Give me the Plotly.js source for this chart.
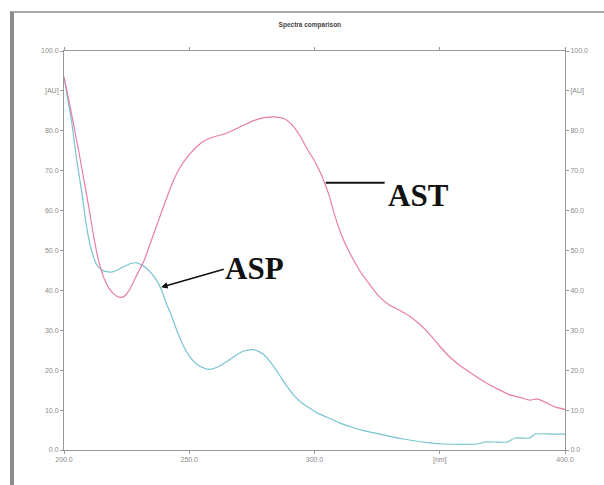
<!DOCTYPE html>
<html>
<head>
<meta charset="utf-8">
<script src="https://cdn.plot.ly/plotly-3.0.1.min.js"></script>
<style>
  html, body { margin: 0; padding: 0; background: #fff; }
  #wrap { position: relative; width: 604px; height: 485px; overflow: hidden; }
  #chart { width: 604px; height: 485px; }
  #frame { position: absolute; left: 10px; top: 11px; width: 700px; height: 600px;
           border-left: 4px solid #8c8c8c; border-top: 2px solid #a8a8a8; pointer-events: none; }
</style>
</head>
<body>
<div id="wrap">
  <div id="chart"></div>
  <div id="frame"></div>
</div>
<script>
// AST spectrum (pink)
const astX = [200,202,204,206,208,210,212,214,216,218,220,222,224,226,228,230,232,234,236,238,240,243,246,250,253,256,260,264,268,272,276,280,284,288,291,294,297,300,302,304,306,308,311,314,318,322,326,330,334,338,342,346,350,354,358,362,366,370,374,378,382,386,389,392,396,400];
const astY = [93.5,87.5,81,74.5,67.5,60.5,53,47,43,40.5,39,38.3,38.5,40,42.5,45,47.5,51,54.5,58,61.5,66.5,70.5,74,76,77.5,78.5,79.2,80.3,81.5,82.6,83.3,83.5,83,81.5,79,75.5,72.5,70,67,63.5,59,53.5,49.5,45,41.5,38.3,36.3,35,33.5,31.5,29,26,23.3,21.2,19.5,17.8,16.3,15,13.8,13.2,12.5,12.8,12,10.8,10.2];

// ASP spectrum (cyan)
const aspX = [200,202,203,205,207,209,211,213,215,217,219,221,224,227,229,231,233,235,237,239,241,243,245,247,249,251,253,256,258,260,262,264,267,270,273,276,278,280,283,286,289,292,295,298,301,305,310,315,320,326,331,336,341,346,352,358,365,368,372,377,380,386,388,394,400];
const aspY = [93.5,86,82.5,73,65,56,50,46.5,45.2,44.7,44.6,45,46,46.8,46.9,46.4,45.5,44.2,42.5,40,36.5,33.5,30,27,24.5,22.8,21.5,20.5,20.2,20.5,21,21.8,23,24.3,25,25.1,24.6,23.8,21.5,18.8,16,13.5,11.8,10.5,9.3,8.2,6.8,5.7,4.8,4,3.3,2.7,2.2,1.8,1.5,1.4,1.5,2,2,2,3,3,4,4,4];

// Tick labels
const xTickVals = [200,250,300,350,400];
const xTickText = ['200.0','250.0','300.0','[nm]','400.0'];
const yTickVals = [0,10,20,30,40,50,60,70,80,90,100];
const yTickText = ['0.0','10.0','20.0','30.0','40.0','50.0','60.0','70.0','80.0','[AU]','100.0'];

// Labels
const astLabel = 'AST';
const aspLabel = 'ASP';
const titleText = 'Spectra comparison';

const tickFont = {family: 'Liberation Sans, Arial, sans-serif', size: 7, color: '#8a8a8a'};

const traces = [
  {x: aspX, y: aspY, type: 'scatter', mode: 'lines', name: aspLabel,
   line: {color: 'rgb(120,195,208)', width: 1.2, shape: 'spline', smoothing: 0.6}, hoverinfo: 'skip'},
  {x: astX, y: astY, type: 'scatter', mode: 'lines', name: astLabel, yaxis: 'y2',
   line: {color: 'rgb(232,125,170)', width: 1.2, shape: 'spline', smoothing: 0.6}, hoverinfo: 'skip'}
];

const layout = {
  width: 604, height: 485,
  margin: {l: 64, r: 39, t: 51, b: 35},
  paper_bgcolor: '#fff', plot_bgcolor: '#fff',
  showlegend: false,
  title: {text: '<b>' + titleText + '</b>', font: {family: 'Liberation Sans, Arial, sans-serif', size: 6.5, color: '#444'},
          x: 0.513, xanchor: 'center', y: 0.949, yanchor: 'middle'},
  xaxis: {range: [200, 400], tickvals: xTickVals, ticktext: xTickText, tickfont: tickFont,
          showline: true, linecolor: '#999', linewidth: 1, mirror: 'ticks',
          ticks: 'outside', ticklen: 3, tickcolor: '#999', showgrid: false, zeroline: false},
  yaxis: {range: [0, 100], tickvals: yTickVals, ticktext: yTickText, tickfont: tickFont,
          showline: true, linecolor: '#999', linewidth: 1,
          ticks: 'outside', ticklen: 3, tickcolor: '#999', showgrid: false, zeroline: false},
  yaxis2: {range: [0, 100], tickvals: yTickVals, ticktext: yTickText, tickfont: tickFont,
           overlaying: 'y', side: 'right',
           showline: true, linecolor: '#999', linewidth: 1,
           ticks: 'outside', ticklen: 3, tickcolor: '#999', showgrid: false, zeroline: false},
  shapes: [
    {type: 'line', xref: 'x', yref: 'y', x0: 304.5, y0: 67, x1: 328, y1: 67,
     line: {color: '#111', width: 2}}
  ],
  annotations: [
    {x: 341.5, y: 63.8, xref: 'x', yref: 'y', text: '<b>' + astLabel + '</b>', showarrow: false,
     font: {family: 'Liberation Serif, Times New Roman, serif', size: 31, color: '#111'}},
    {x: 276, y: 45.6, xref: 'x', yref: 'y', text: '<b>' + aspLabel + '</b>', showarrow: false,
     font: {family: 'Liberation Serif, Times New Roman, serif', size: 31, color: '#111'}},
    {x: 238.8, y: 40.8, xref: 'x', yref: 'y', ax: 264.4, ay: 45.4, axref: 'x', ayref: 'y',
     text: '', showarrow: true, arrowhead: 2, arrowsize: 0.8, arrowwidth: 1.6, arrowcolor: '#111'}
  ]
};

Plotly.newPlot('chart', traces, layout, {displayModeBar: false, staticPlot: true});
</script>
</body>
</html>
